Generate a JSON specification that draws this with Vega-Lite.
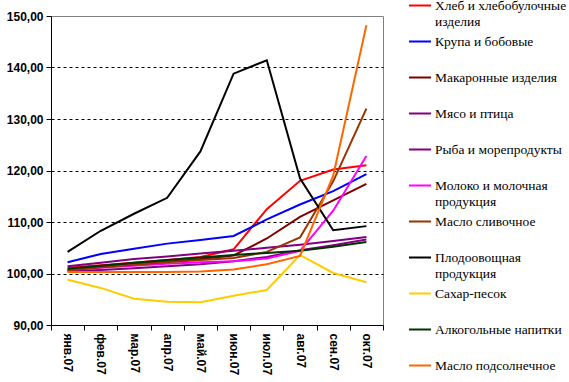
{
  "$schema": "https://vega.github.io/schema/vega-lite/v6.json",
  "width": 332,
  "height": 309,
  "autosize": {"type": "none"},
  "padding": {"left": 51, "top": 16, "right": 186, "bottom": 57},
  "background": "white",
  "config": {
    "view": {"stroke": "#808080", "strokeWidth": 1},
    "axis": {"labelFont": "Liberation Sans", "labelFontWeight": "bold", "labelFontSize": 12, "labelColor": "#000000", "domainColor": "#000000", "tickColor": "#000000", "tickSize": 5, "title": null},
    "legend": {"labelFont": "Liberation Serif", "labelFontSize": 13.5, "labelColor": "#000000"}
  },
  "data": {"values": [
    {"m":"янв.07","s":"Хлеб и хлебобулочные изделия","v":101.1},{"m":"фев.07","s":"Хлеб и хлебобулочные изделия","v":101.6},{"m":"мар.07","s":"Хлеб и хлебобулочные изделия","v":102.1},{"m":"апр.07","s":"Хлеб и хлебобулочные изделия","v":102.6},{"m":"май.07","s":"Хлеб и хлебобулочные изделия","v":103.2},{"m":"июн.07","s":"Хлеб и хлебобулочные изделия","v":104.7},{"m":"июл.07","s":"Хлеб и хлебобулочные изделия","v":112.5},{"m":"авг.07","s":"Хлеб и хлебобулочные изделия","v":118.0},{"m":"сен.07","s":"Хлеб и хлебобулочные изделия","v":120.2},{"m":"окт.07","s":"Хлеб и хлебобулочные изделия","v":121.0},
    {"m":"янв.07","s":"Крупа и бобовые","v":102.2},{"m":"фев.07","s":"Крупа и бобовые","v":103.8},{"m":"мар.07","s":"Крупа и бобовые","v":104.8},{"m":"апр.07","s":"Крупа и бобовые","v":105.8},{"m":"май.07","s":"Крупа и бобовые","v":106.5},{"m":"июн.07","s":"Крупа и бобовые","v":107.3},{"m":"июл.07","s":"Крупа и бобовые","v":110.5},{"m":"авг.07","s":"Крупа и бобовые","v":113.4},{"m":"сен.07","s":"Крупа и бобовые","v":116.0},{"m":"окт.07","s":"Крупа и бобовые","v":119.3},
    {"m":"янв.07","s":"Макаронные изделия","v":100.8},{"m":"фев.07","s":"Макаронные изделия","v":101.3},{"m":"мар.07","s":"Макаронные изделия","v":101.8},{"m":"апр.07","s":"Макаронные изделия","v":102.3},{"m":"май.07","s":"Макаронные изделия","v":102.8},{"m":"июн.07","s":"Макаронные изделия","v":103.5},{"m":"июл.07","s":"Макаронные изделия","v":106.8},{"m":"авг.07","s":"Макаронные изделия","v":111.0},{"m":"сен.07","s":"Макаронные изделия","v":114.2},{"m":"окт.07","s":"Макаронные изделия","v":117.4},
    {"m":"янв.07","s":"Мясо и птица","v":100.5},{"m":"фев.07","s":"Мясо и птица","v":100.7},{"m":"мар.07","s":"Мясо и птица","v":101.0},{"m":"апр.07","s":"Мясо и птица","v":101.4},{"m":"май.07","s":"Мясо и птица","v":101.8},{"m":"июн.07","s":"Мясо и птица","v":102.4},{"m":"июл.07","s":"Мясо и птица","v":103.2},{"m":"авг.07","s":"Мясо и птица","v":104.5},{"m":"сен.07","s":"Мясо и птица","v":105.5},{"m":"окт.07","s":"Мясо и птица","v":106.6},
    {"m":"янв.07","s":"Рыба и морепродукты","v":101.4},{"m":"фев.07","s":"Рыба и морепродукты","v":102.1},{"m":"мар.07","s":"Рыба и морепродукты","v":102.8},{"m":"апр.07","s":"Рыба и морепродукты","v":103.3},{"m":"май.07","s":"Рыба и морепродукты","v":103.9},{"m":"июн.07","s":"Рыба и морепродукты","v":104.4},{"m":"июл.07","s":"Рыба и морепродукты","v":105.0},{"m":"авг.07","s":"Рыба и морепродукты","v":105.6},{"m":"сен.07","s":"Рыба и морепродукты","v":106.3},{"m":"окт.07","s":"Рыба и морепродукты","v":107.1},
    {"m":"янв.07","s":"Молоко и молочная продукция","v":100.7},{"m":"фев.07","s":"Молоко и молочная продукция","v":101.1},{"m":"мар.07","s":"Молоко и молочная продукция","v":101.5},{"m":"апр.07","s":"Молоко и молочная продукция","v":101.9},{"m":"май.07","s":"Молоко и молочная продукция","v":102.2},{"m":"июн.07","s":"Молоко и молочная продукция","v":102.4},{"m":"июл.07","s":"Молоко и молочная продукция","v":102.9},{"m":"авг.07","s":"Молоко и молочная продукция","v":104.4},{"m":"сен.07","s":"Молоко и молочная продукция","v":112.2},{"m":"окт.07","s":"Молоко и молочная продукция","v":122.8},
    {"m":"янв.07","s":"Масло сливочное","v":100.6},{"m":"фев.07","s":"Масло сливочное","v":101.2},{"m":"мар.07","s":"Масло сливочное","v":101.7},{"m":"апр.07","s":"Масло сливочное","v":102.2},{"m":"май.07","s":"Масло сливочное","v":102.6},{"m":"июн.07","s":"Масло сливочное","v":103.0},{"m":"июл.07","s":"Масло сливочное","v":104.2},{"m":"авг.07","s":"Масло сливочное","v":107.0},{"m":"сен.07","s":"Масло сливочное","v":117.9},{"m":"окт.07","s":"Масло сливочное","v":132.0},
    {"m":"янв.07","s":"Плодоовощная продукция","v":104.2},{"m":"фев.07","s":"Плодоовощная продукция","v":108.3},{"m":"мар.07","s":"Плодоовощная продукция","v":111.6},{"m":"апр.07","s":"Плодоовощная продукция","v":114.7},{"m":"май.07","s":"Плодоовощная продукция","v":123.7},{"m":"июн.07","s":"Плодоовощная продукция","v":138.8},{"m":"июл.07","s":"Плодоовощная продукция","v":141.4},{"m":"авг.07","s":"Плодоовощная продукция","v":118.5},{"m":"сен.07","s":"Плодоовощная продукция","v":108.4},{"m":"окт.07","s":"Плодоовощная продукция","v":109.2},
    {"m":"янв.07","s":"Сахар-песок","v":98.8},{"m":"фев.07","s":"Сахар-песок","v":97.2},{"m":"мар.07","s":"Сахар-песок","v":95.1},{"m":"апр.07","s":"Сахар-песок","v":94.5},{"m":"май.07","s":"Сахар-песок","v":94.4},{"m":"июн.07","s":"Сахар-песок","v":95.7},{"m":"июл.07","s":"Сахар-песок","v":96.8},{"m":"авг.07","s":"Сахар-песок","v":103.6},{"m":"сен.07","s":"Сахар-песок","v":100.1},{"m":"окт.07","s":"Сахар-песок","v":98.3},
    {"m":"янв.07","s":"Алкогольные напитки","v":100.9},{"m":"фев.07","s":"Алкогольные напитки","v":101.5},{"m":"мар.07","s":"Алкогольные напитки","v":102.1},{"m":"апр.07","s":"Алкогольные напитки","v":102.6},{"m":"май.07","s":"Алкогольные напитки","v":103.1},{"m":"июн.07","s":"Алкогольные напитки","v":103.6},{"m":"июл.07","s":"Алкогольные напитки","v":104.0},{"m":"авг.07","s":"Алкогольные напитки","v":104.4},{"m":"сен.07","s":"Алкогольные напитки","v":105.2},{"m":"окт.07","s":"Алкогольные напитки","v":106.1},
    {"m":"янв.07","s":"Масло подсолнечное","v":100.3},{"m":"фев.07","s":"Масло подсолнечное","v":100.3},{"m":"мар.07","s":"Масло подсолнечное","v":100.3},{"m":"апр.07","s":"Масло подсолнечное","v":100.3},{"m":"май.07","s":"Масло подсолнечное","v":100.4},{"m":"июн.07","s":"Масло подсолнечное","v":100.8},{"m":"июл.07","s":"Масло подсолнечное","v":101.8},{"m":"авг.07","s":"Масло подсолнечное","v":103.4},{"m":"сен.07","s":"Масло подсолнечное","v":119.0},{"m":"окт.07","s":"Масло подсолнечное","v":148.2}
  ]},
  "mark": {"type": "line", "clip": true},
  "encoding": {
    "x": {
      "field": "m", "type": "ordinal", "bandPosition": 0.5,
      "sort": ["янв.07","фев.07","мар.07","апр.07","май.07","июн.07","июл.07","авг.07","сен.07","окт.07"],
      "scale": {"type": "band", "paddingInner": 0, "paddingOuter": 0},
      "axis": {"labelAngle": 90, "tickBand": "extent", "labelPadding": 3, "grid": false, "labelBaseline": "middle", "labelAlign": "left"}
    },
    "y": {
      "field": "v", "type": "quantitative",
      "scale": {"domain": [90, 150], "nice": false, "zero": false},
      "axis": {"values": [90, 100, 110, 120, 130, 140, 150], "labelExpr": "replace(format(datum.value, '.2f'), '.', ',')", "grid": true, "gridColor": "#000000", "gridDash": [3, 3], "gridWidth": 1, "gridOpacity": {"condition": {"test": "datum.value == 150 || datum.value == 90", "value": 0}, "value": 1}, "labelPadding": 3}
    },
    "color": {
      "field": "s", "type": "nominal",
      "scale": {
        "domain": ["Хлеб и хлебобулочные изделия","Крупа и бобовые","Макаронные изделия","Мясо и птица","Рыба и морепродукты","Молоко и молочная продукция","Масло сливочное","Плодоовощная продукция","Сахар-песок","Алкогольные напитки","Масло подсолнечное"],
        "range": ["#FF0000","#0000FF","#800000","#800080","#800080","#FF00FF","#993300","#000000","#FFCC00","#003300","#FF6600"]
      },
      "legend": {
        "title": null, "orient": "none", "legendX": 357, "legendY": -18,
        "symbolType": "stroke", "symbolSize": 484, "symbolStrokeWidth": 2,
        "labelFont": "Liberation Serif", "labelFontSize": 13.5, "labelColor": "#000000", "labelLimit": 0, "labelOffset": 3,
        "labelBaseline": "alphabetic", "labelLineHeight": 16, "rowPadding": 6,
        "labelExpr": "datum.label == 'Хлеб и хлебобулочные изделия' ? ['Хлеб и хлебобулочные', 'изделия'] : datum.label == 'Молоко и молочная продукция' ? ['Молоко и молочная', 'продукция'] : datum.label == 'Плодоовощная продукция' ? ['Плодоовощная', 'продукция'] : [datum.label, ' ']",
        "encode": {"symbols": {"update": {"y": {"value": 7.5}}}}
      }
    },
    "strokeWidth": {
      "field": "s", "type": "nominal",
      "scale": {
        "domain": ["Хлеб и хлебобулочные изделия","Крупа и бобовые","Макаронные изделия","Мясо и птица","Рыба и морепродукты","Молоко и молочная продукция","Масло сливочное","Плодоовощная продукция","Сахар-песок","Алкогольные напитки","Масло подсолнечное"],
        "range": [2,2,2,2,1,2,2,2,2,2,2]
      },
      "legend": {
        "title": null, "orient": "none", "legendX": 357, "legendY": -18,
        "symbolType": "stroke", "symbolSize": 484,
        "labelFont": "Liberation Serif", "labelFontSize": 13.5, "labelColor": "#000000", "labelLimit": 0, "labelOffset": 3,
        "labelBaseline": "alphabetic", "labelLineHeight": 16, "rowPadding": 6,
        "labelExpr": "datum.label == 'Хлеб и хлебобулочные изделия' ? ['Хлеб и хлебобулочные', 'изделия'] : datum.label == 'Молоко и молочная продукция' ? ['Молоко и молочная', 'продукция'] : datum.label == 'Плодоовощная продукция' ? ['Плодоовощная', 'продукция'] : [datum.label, ' ']",
        "encode": {"symbols": {"update": {"y": {"value": 7.5}}}}
      }
    },
    "order": {"field": "s"}
  }
}
